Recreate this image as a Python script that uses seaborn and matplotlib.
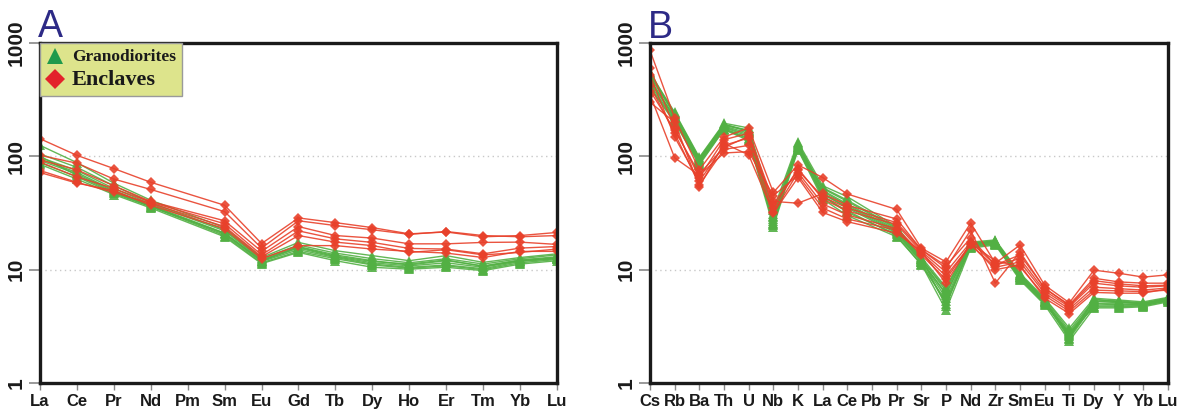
import numpy as np
import pandas as pd
import seaborn as sns
import matplotlib
matplotlib.use("Agg")
import matplotlib.pyplot as plt
from matplotlib.lines import Line2D
from matplotlib.ticker import FixedLocator, NullLocator, FixedFormatter

sns.set_theme(style="white")
plt.rcParams["font.family"] = ["Liberation Sans", "DejaVu Sans"]

nan = np.nan

# ---------------- Panel A: chondrite-normalised REE ----------------
ree = ["La", "Ce", "Pr", "Nd", "Pm", "Sm", "Eu", "Gd", "Tb", "Dy", "Ho", "Er", "Tm", "Yb", "Lu"]

ree_granodiorites = [
    [125, 88, 58, 41, nan, 23.5, 12.8, 17.4, 14.7, 13.3, 12.0, 13.3, 11.6, 12.8, 13.8],
    [105, 80, 55, 39, nan, 22.5, 12.5, 16.5, 14.0, 12.5, 11.5, 12.5, 11.2, 12.5, 13.5],
    [98, 75, 52, 38, nan, 22.0, 12.2, 16.0, 13.5, 12.0, 11.0, 12.0, 10.8, 12.2, 13.0],
    [95, 72, 50, 37, nan, 21.0, 12.0, 15.5, 13.0, 11.5, 10.8, 11.5, 10.5, 12.0, 12.8],
    [92, 70, 49, 36.5, nan, 20.5, 11.8, 15.0, 12.8, 11.2, 10.5, 11.0, 10.2, 11.8, 12.5],
    [88, 66, 47, 36, nan, 20.0, 11.5, 14.5, 12.5, 11.0, 10.3, 10.8, 10.0, 11.5, 12.3],
    [85, 63, 46, 35, nan, 19.5, 11.3, 14.2, 12.0, 10.5, 10.1, 10.5, 9.8, 11.2, 12.0],
    [100, 68, 48, 36, nan, 21.0, 12.0, 15.8, 13.2, 11.8, 11.2, 12.2, 10.7, 12.0, 12.6],
]

ree_enclaves = [
    [143, 102, 78, 59, nan, 37.0, 17.0, 28.6, 26.0, 23.5, 20.7, 21.5, 19.5, 20.0, 21.3],
    [102, 87, 63, 51, nan, 32.5, 15.5, 27.0, 24.5, 22.5, 20.5, 21.7, 20.0, 19.5, 20.0],
    [93, 76, 55, 40, nan, 27.0, 14.5, 24.0, 20.0, 19.0, 16.9, 16.9, 17.4, 17.5, 16.7],
    [89, 66, 52, 39.4, nan, 25.4, 13.5, 22.0, 18.7, 17.4, 15.4, 15.2, 13.8, 15.5, 16.0],
    [75, 59, 48, 38.4, nan, 24.0, 13.0, 20.0, 17.5, 16.3, 14.2, 15.0, 13.5, 14.2, 15.2],
    [72, 58, 50, 37, nan, 23.0, 12.5, 16.3, 16.3, 15.2, 14.5, 14.0, 12.8, 14.5, 14.5],
]

# ---------------- Panel B: primitive-mantle-normalised spider ----------------
spider = ["Cs", "Rb", "Ba", "Th", "U", "Nb", "K", "La", "Ce", "Pb", "Pr", "Sr",
          "P", "Nd", "Zr", "Sm", "Eu", "Ti", "Dy", "Y", "Yb", "Lu"]

spider_granodiorites = [
    [540, 245, 98, 196, 178, 33.5, 134, 55, 44, nan, 24.0, 12.9, 7.0, 17.5, 18.3, 9.3, 5.6, 3.05, 5.6, 5.4, 5.2, 5.7],
    [500, 235, 95, 190, 170, 31.0, 130, 52, 40, nan, 23.0, 12.5, 6.5, 17.0, 18.0, 9.0, 5.5, 2.9, 5.4, 5.3, 5.1, 5.6],
    [470, 225, 92, 185, 160, 29.0, 126, 49, 37, nan, 22.0, 12.2, 6.0, 16.8, 17.6, 8.8, 5.3, 2.8, 5.2, 5.2, 5.0, 5.5],
    [450, 220, 90, 180, 150, 27.0, 122, 47, 35, nan, 21.0, 12.0, 5.6, 16.3, 17.2, 8.6, 5.2, 2.7, 5.0, 5.0, 4.9, 5.4],
    [430, 210, 88, 176, 145, 25.5, 118, 45, 32, nan, 20.5, 11.6, 5.0, 16.0, 17.0, 8.4, 5.1, 2.6, 4.8, 4.8, 4.8, 5.3],
    [400, 200, 84, 172, 138, 24.0, 114, 42, 30, nan, 19.5, 11.2, 4.4, 15.5, 16.5, 8.1, 4.9, 2.35, 4.6, 4.6, 4.7, 5.2],
    [520, 240, 96, 193, 165, 26.0, 128, 50, 38, nan, 22.5, 12.4, 6.8, 17.2, 17.8, 9.1, 5.4, 2.5, 5.5, 5.2, 5.0, 5.5],
    [410, 205, 86, 174, 142, 30.0, 116, 44, 33, nan, 20.0, 11.0, 5.3, 15.8, 16.8, 8.3, 5.0, 2.75, 4.7, 4.7, 4.8, 5.35],
    [480, 215, 93, 182, 155, 25.0, 124, 46, 36, nan, 21.5, 11.8, 6.2, 16.5, 17.4, 8.7, 5.2, 2.45, 5.0, 4.9, 4.9, 5.45],
    [560, 230, 91, 188, 168, 28.0, 120, 53, 41, nan, 23.5, 12.6, 4.8, 16.6, 17.9, 8.9, 5.3, 2.65, 5.3, 5.1, 5.05, 5.6],
]

spider_enclaves = [
    [860, 218, 76, 148, 178, 48, 84, 65, 46.5, nan, 34, 15.5, 11.7, 25.8, 11.4, 16.5, 7.3, 5.1, 9.9, 9.3, 8.6, 9.0],
    [600, 178, 65, 140, 160, 40, 38.6, 47, 37, nan, 28, 15.0, 10.3, 22.3, 7.6, 14.3, 6.8, 4.9, 8.4, 7.8, 7.6, 7.6],
    [520, 148, 60, 125, 145, 35, 78, 42, 33, nan, 25, 14.5, 9.5, 17.5, 11.0, 12.5, 6.5, 4.7, 7.6, 7.2, 7.0, 7.2],
    [420, 160, 56, 115, 125, 32, 72, 38, 30.4, nan, 23, 14.0, 8.8, 16.5, 10.5, 11.7, 6.2, 4.5, 7.0, 6.8, 6.6, 6.9],
    [350, 97, 68, 107, 110, 45, 68, 35, 28, nan, 22.3, 13.5, 8.2, 17.0, 12.0, 10.6, 5.9, 4.3, 6.6, 6.5, 6.4, 6.6],
    [300, 200, 54, 130, 103, 31.6, 65, 32, 26.5, nan, 21, 14.5, 7.6, 16.8, 10.0, 11.0, 5.6, 4.1, 6.3, 6.2, 6.2, 6.8],
    [380, 170, 70, 120, 150, 38, 75, 44, 35, nan, 26, 15.0, 10.8, 19.0, 11.0, 13.5, 6.9, 4.8, 8.0, 7.5, 7.2, 7.3],
]

GREEN = "#52b043"
RED = "#e8412b"
LEGEND_GREEN = "#1f9a4c"
LEGEND_RED = "#e3232b"
LETTER = "#2d2a86"


def to_long(rows, elements, group):
    recs = []
    for i, row in enumerate(rows):
        for j, v in enumerate(row):
            recs.append({"sample": f"{group}-{i}", "pos": j, "element": elements[j],
                         "value": v, "group": group})
    return pd.DataFrame(recs)


def draw_panel(ax, elements, gran, encl):
    dg = to_long(gran, elements, "Granodiorites").dropna()
    de = to_long(encl, elements, "Enclaves").dropna()
    sns.lineplot(data=dg, x="pos", y="value", units="sample", estimator=None,
                 color=GREEN, marker="^", markersize=7, markeredgewidth=0,
                 linewidth=1.0, alpha=0.9, sort=False, ax=ax, legend=False)
    sns.lineplot(data=de, x="pos", y="value", units="sample", estimator=None,
                 color=RED, marker="D", markersize=5.2, markeredgewidth=0,
                 linewidth=1.0, alpha=0.9, sort=False, ax=ax, legend=False)
    ax.set_yscale("log")
    ax.set_ylim(1, 1000)
    ax.set_xlim(0, len(elements) - 1)
    ax.yaxis.set_major_locator(FixedLocator([1, 10, 100, 1000]))
    ax.yaxis.set_major_formatter(FixedFormatter(["1", "10", "100", "1000"]))
    ax.yaxis.set_minor_locator(NullLocator())
    ax.set_xticks(range(len(elements)))
    ax.set_xticklabels(elements)
    ax.set_xlabel("")
    ax.set_ylabel("")
    for y in (10, 100):
        ax.axhline(y, color="#c8c8c8", linestyle=(0, (1, 2.5)), linewidth=1.0, zorder=0)
    for sp in ax.spines.values():
        sp.set_color("#1a1a1a")
        sp.set_linewidth(2.4)
    ax.tick_params(axis="y", which="major", direction="out", length=8, width=1.2,
                   color="#888888", labelsize=15, pad=2, left=True)
    ax.tick_params(axis="x", which="major", direction="out", length=5, width=1.0,
                   color="#888888", labelsize=12, pad=3, bottom=True)
    for lab in ax.get_yticklabels():
        lab.set_rotation(90)
        lab.set_va("center")
        lab.set_fontweight("bold")
        lab.set_color("#1a1a1a")
    for lab in ax.get_xticklabels():
        lab.set_fontweight("bold")
        lab.set_color("#1a1a1a")


fig = plt.figure(figsize=(11.89, 4.13), dpi=100)
axA = fig.add_axes([40 / 1189, 30 / 413, 517 / 1189, 340 / 413])
axB = fig.add_axes([650 / 1189, 30 / 413, 518 / 1189, 340 / 413])

draw_panel(axA, ree, ree_granodiorites, ree_enclaves)
draw_panel(axB, spider, spider_granodiorites, spider_enclaves)

handles = [
    Line2D([], [], linestyle="none", marker="^", markersize=12,
           markerfacecolor=LEGEND_GREEN, markeredgewidth=0),
    Line2D([], [], linestyle="none", marker="D", markersize=10,
           markerfacecolor=LEGEND_RED, markeredgewidth=0),
]
leg = axA.legend(handles, ["Granodiorites", "Enclaves"], loc="upper left",
                 bbox_to_anchor=(0.0, 1.0), frameon=True, fancybox=False,
                 facecolor="#dde48c", edgecolor="#9a9a9a", framealpha=1.0,
                 borderpad=0.4, handlelength=1.2, handletextpad=0.5,
                 labelspacing=0.3, borderaxespad=0.0)
leg.get_frame().set_linewidth(1.0)
t1, t2 = leg.get_texts()
t1.set_fontfamily("Liberation Serif")
t1.set_fontsize(12.5)
t1.set_fontweight("bold")
t1.set_color("#1a1a1a")
t2.set_fontfamily("Liberation Serif")
t2.set_fontsize(16)
t2.set_fontweight("bold")
t2.set_color("#1a1a1a")

fig.text(38 / 1189, 376 / 413, "A", fontsize=27, color=LETTER, ha="left", va="baseline")
fig.text(648 / 1189, 375 / 413, "B", fontsize=27, color=LETTER, ha="left", va="baseline")

fig.savefig("out.png", dpi=100, facecolor="white")
